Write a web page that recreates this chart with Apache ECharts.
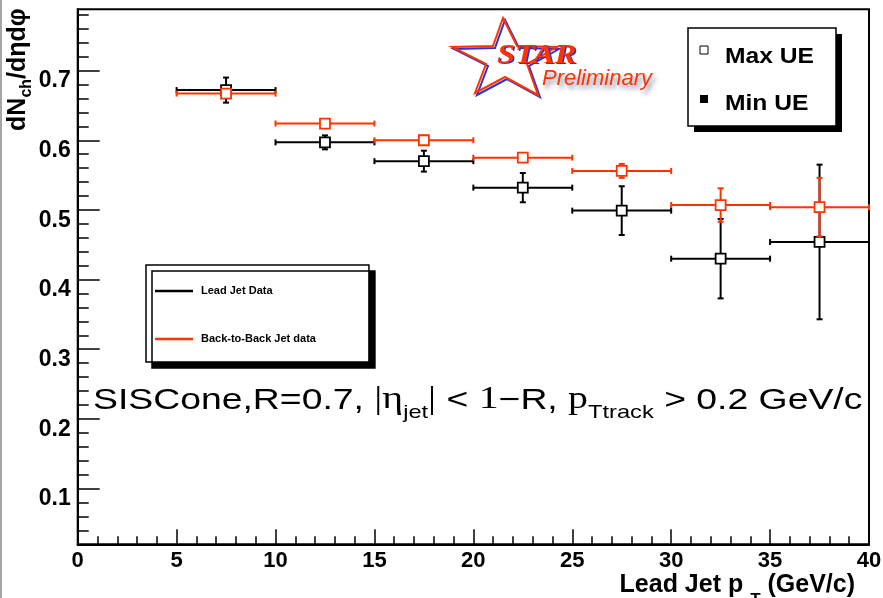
<!DOCTYPE html>
<html>
<head>
<meta charset="utf-8">
<script src="https://cdn.jsdelivr.net/npm/echarts@6/dist/echarts.min.js"></script>
<style>
html,body{margin:0;padding:0;background:#fff;}
#chart{width:883px;height:598px;}
</style>
</head>
<body>
<div id="chart"></div>
<script>
// ---- data ----
var xCenters = [7.5, 12.5, 17.5, 22.5, 27.5, 32.5, 37.5];
var xHalfWidth = [2.5, 2.5, 2.5, 2.5, 2.5, 2.5, 2.5];
var leadJetY = [0.672, 0.597, 0.570, 0.532, 0.499, 0.430, 0.454];
var leadJetErr = [0.018, 0.010, 0.015, 0.021, 0.035, 0.057, 0.111];
var b2bJetY = [0.667, 0.624, 0.600, 0.575, 0.556, 0.507, 0.504];
var b2bJetErr = [0.004, 0.003, 0.003, 0.003, 0.010, 0.024, 0.042];
var yMajorTicks = [0.1, 0.2, 0.3, 0.4, 0.5, 0.6, 0.7];
var yMinorTicks = [0.04, 0.06, 0.08, 0.12, 0.14, 0.16, 0.18, 0.22, 0.24, 0.26, 0.28,
  0.32, 0.34, 0.36, 0.38, 0.42, 0.44, 0.46, 0.48, 0.52, 0.54, 0.56, 0.58,
  0.62, 0.64, 0.66, 0.68, 0.72, 0.74, 0.76, 0.78];
var yRange = [0.02, 0.788];
var xRange = [0, 40];

var RED = '#ff3300';
var FONT = '"Liberation Sans", Arial, Helvetica, sans-serif';

function buildData(ys, errs) {
  return xCenters.map(function (x, i) { return [x, ys[i], xHalfWidth[i], errs[i]]; });
}

function errRenderer(color) {
  return function (params, api) {
    var x = api.value(0), y = api.value(1), dx = api.value(2), dy = api.value(3);
    var c = api.coord([x, y]);
    var L = api.coord([x - dx, y]), R = api.coord([x + dx, y]);
    var T = api.coord([x, y + dy]), B = api.coord([x, y - dy]);
    var h = 5, cap = 3;
    var ls = { stroke: color, lineWidth: 2 };
    var ch = [];
    function line(x1, y1, x2, y2) { ch.push({ type: 'line', shape: { x1: x1, y1: y1, x2: x2, y2: y2 }, style: ls }); }
    line(L[0], c[1], c[0] - h, c[1]);
    line(c[0] + h, c[1], R[0], c[1]);
    line(L[0], c[1] - cap, L[0], c[1] + cap);
    line(R[0], c[1] - cap, R[0], c[1] + cap);
    if (c[1] - T[1] > h) line(c[0], T[1], c[0], c[1] - h);
    line(c[0] - cap, T[1], c[0] + cap, T[1]);
    if (B[1] - c[1] > h) line(c[0], c[1] + h, c[0], B[1]);
    line(c[0] - cap, B[1], c[0] + cap, B[1]);
    ch.push({ type: 'rect', shape: { x: c[0] - h, y: c[1] - h, width: 2 * h, height: 2 * h },
      style: { fill: '#fff', stroke: color, lineWidth: 1.8 } });
    return { type: 'group', children: ch };
  };
}

var chart = echarts.init(document.getElementById('chart'), null, { renderer: 'canvas' });

var option = {
  animation: false,
  backgroundColor: '#fff',
  grid: { left: 77.7, right: 14, top: 9.3, bottom: 53.7, outerBoundsMode: 'none', containLabel: false,
    show: true, borderColor: '#000', borderWidth: 2, backgroundColor: '#fff' },
  xAxis: {
    type: 'value', min: xRange[0], max: xRange[1], interval: 5,
    name: '{a|Lead Jet p }{t|T}{a| (GeV/c)}',
    nameLocation: 'end', nameGap: -14,
    nameTextStyle: {
      align: 'right', verticalAlign: 'top', padding: [28, 0, 0, 0],
      rich: {
        a: { fontFamily: FONT, fontWeight: 'bold', fontSize: 25, color: '#000', lineHeight: 26, verticalAlign: 'top' },
        t: { fontFamily: FONT, fontWeight: 'bold', fontSize: 17, color: '#000', lineHeight: 18, verticalAlign: 'top', padding: [20, 0, 0, 0] }
      }
    },
    axisLine: { lineStyle: { color: '#000', width: 2 } },
    axisTick: { inside: true, length: 15, lineStyle: { color: '#000', width: 1.5 } },
    minorTick: { show: true, splitNumber: 5, length: 8, lineStyle: { color: '#000', width: 1.5 } },
    axisLabel: { fontFamily: FONT, fontWeight: 'bold', fontSize: 22, color: '#000', margin: 6 },
    splitLine: { show: false }
  },
  yAxis: [{
    type: 'value', min: yRange[0], max: yRange[1],
    name: '{a|dN}{s|ch}{a|/dηdφ}',
    nameLocation: 'end', nameGap: 1, nameRotate: 90,
    nameTextStyle: {
      align: 'right', verticalAlign: 'bottom', padding: [0, 0, 43, 0],
      rich: {
        a: { fontFamily: FONT, fontWeight: 'bold', fontSize: 25, color: '#000', lineHeight: 28, verticalAlign: 'bottom', padding: [0, 0, 4, 0] },
        s: { fontFamily: FONT, fontWeight: 'bold', fontSize: 16, color: '#000', lineHeight: 18, verticalAlign: 'bottom' }
      }
    },
    axisLine: { show: true, lineStyle: { color: '#000', width: 2 } },
    axisTick: { show: true, inside: true, length: 22, customValues: yMajorTicks, lineStyle: { color: '#000', width: 1.5 } },
    axisLabel: { customValues: yMajorTicks, formatter: function (v) { return v.toFixed(1); },
      fontFamily: FONT, fontWeight: 'bold', fontSize: 23, color: '#000', margin: 7,
      verticalAlign: 'top', lineHeight: 21 },
    splitLine: { show: false }
  }, {
    type: 'value', min: yRange[0], max: yRange[1], position: 'left',
    axisLine: { show: false },
    axisTick: { show: true, inside: true, length: 11, customValues: yMinorTicks, lineStyle: { color: '#000', width: 1.5 } },
    axisLabel: { show: false },
    splitLine: { show: false }
  }],
  legend: {
    data: [
      { name: 'Lead Jet Data', icon: 'rect', itemStyle: { color: '#000' } },
      { name: 'Back-to-Back Jet data', icon: 'rect', itemStyle: { color: RED } }
    ],
    orient: 'vertical', left: 146, top: 265,
    itemWidth: 38, itemHeight: 2.5, itemGap: 34,
    padding: [19, 53, 16, 9],
    backgroundColor: '#fff', borderColor: '#000', borderWidth: 1.5, borderRadius: 0,
    shadowColor: '#000', shadowBlur: 0, shadowOffsetX: 6, shadowOffsetY: 6,
    selectedMode: false,
    textStyle: { fontFamily: FONT, fontSize: 11, fontWeight: 'bold', color: '#000', lineHeight: 14, padding: [0, 0, 0, 3] }
  },
  series: [{
    type: 'custom', name: 'Lead Jet Data', xAxisIndex: 0, yAxisIndex: 0,
    itemStyle: { color: '#000' },
    data: buildData(leadJetY, leadJetErr),
    encode: { x: 0, y: 1 },
    renderItem: errRenderer('#000'),
    z: 3
  }, {
    type: 'custom', name: 'Back-to-Back Jet data', xAxisIndex: 0, yAxisIndex: 0,
    itemStyle: { color: RED },
    data: buildData(b2bJetY, b2bJetErr),
    encode: { x: 0, y: 1 },
    renderItem: errRenderer(RED),
    z: 4
  }],
  graphic: [
    { type: 'line', shape: { x1: 1, y1: 0, x2: 1, y2: 598 }, style: { stroke: '#888', lineWidth: 1.5 }, z: 0 },
    // Max/Min UE box
    { type: 'rect', shape: { x: 694, y: 34, width: 148, height: 98 }, style: { fill: '#000' }, z: 10 },
    { type: 'rect', shape: { x: 688, y: 28, width: 148, height: 98 }, style: { fill: '#fff', stroke: '#000', lineWidth: 1.5 }, z: 11 },
    { type: 'rect', shape: { x: 700, y: 46, width: 8, height: 8 }, style: { fill: '#fff', stroke: '#000', lineWidth: 1 }, z: 12 },
    { type: 'rect', shape: { x: 700, y: 95, width: 8, height: 8 }, style: { fill: '#000' }, z: 12 },
    { type: 'text', x: 725, y: 57, scaleX: 1.12, style: { text: 'Max UE', fontFamily: FONT, fontWeight: 'bold', fontSize: 22, fill: '#000', verticalAlign: 'middle' }, z: 12 },
    { type: 'text', x: 725, y: 104, scaleX: 1.12, style: { text: 'Min UE', fontFamily: FONT, fontWeight: 'bold', fontSize: 22, fill: '#000', verticalAlign: 'middle' }, z: 12 },
    // STAR Preliminary logo
    { type: 'polygon', shape: { points: [[503,18],[517,46],[557,47],[527,64],[538,95],[505,77],[475,93],[486,64],[452,47],[493,46]] },
      x: 2, y: 2, style: { fill: 'none', stroke: '#2a36d0', lineWidth: 2 }, z: 10 },
    { type: 'polygon', shape: { points: [[503,18],[517,46],[557,47],[527,64],[538,95],[505,77],[475,93],[486,64],[452,47],[493,46]] },
      style: { fill: 'none', stroke: '#ff3300', lineWidth: 2 }, z: 11 },
    { type: 'text', x: 498.5, y: 57.5, scaleX: 1.2, style: { text: 'STAR', fontFamily: '"Liberation Serif", serif', fontStyle: 'italic', fontWeight: 'bold', fontSize: 27, fill: '#2a36d0', verticalAlign: 'middle' }, z: 12 },
    { type: 'text', x: 497, y: 56, scaleX: 1.2, style: { text: 'STAR', fontFamily: '"Liberation Serif", serif', fontStyle: 'italic', fontWeight: 'bold', fontSize: 27, fill: '#ff3300', verticalAlign: 'middle' }, z: 13 },
    { type: 'text', x: 542, y: 79, style: { text: 'Preliminary', fontFamily: FONT, fontStyle: 'italic', fontSize: 22, fill: '#ff3300', verticalAlign: 'middle',
      textShadowColor: 'rgba(90,90,140,0.7)', textShadowBlur: 4, textShadowOffsetX: 3, textShadowOffsetY: 4 }, z: 12 },
    // SISCone annotation
    { type: 'text', x: 93, y: 388, scaleX: 1.245, z: 12,
      style: {
        text: '{a|SISCone,R=0.7, }{g||η}{s|jet}{g||}{a| < }{g|1}{a|−R, }{g|p}{s|Ttrack}{a| > 0.2 GeV/c}',
        verticalAlign: 'top',
        rich: {
          a: { fontFamily: FONT, fontSize: 30, fill: '#000', lineHeight: 34, verticalAlign: 'bottom', padding: [0, 0, 6, 0] },
          g: { fontFamily: '"Liberation Serif", serif', fontSize: 32, fill: '#000', lineHeight: 34, verticalAlign: 'bottom', padding: [0, 0, 6, 0] },
          s: { fontFamily: FONT, fontSize: 19, fill: '#000', lineHeight: 22, verticalAlign: 'bottom' }
        }
      }
    }
  ]
};
chart.setOption(option);
</script>
</body>
</html>
